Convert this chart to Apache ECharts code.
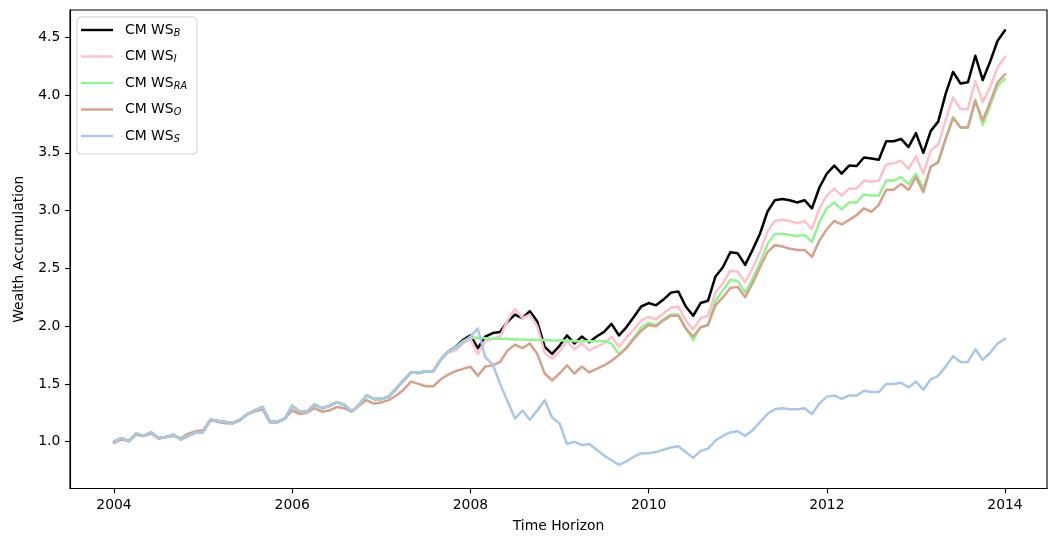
<!DOCTYPE html>
<html>
<head>
<meta charset="utf-8">
<script src="https://cdn.jsdelivr.net/npm/echarts@6/dist/echarts.min.js"></script>
<style>
  html, body { margin: 0; padding: 0; background: #ffffff; }
  #chart { width: 1049px; height: 540px; }
</style>
</head>
<body>
<div id="chart"></div>
<script>
// Monthly observations, January 2004 through January 2014
const startYear = 2004;
const monthCount = 121;
const timeAxis = Array.from({ length: monthCount }, (_, i) => startYear + i / 12);

const xTicks = [2004, 2006, 2008, 2010, 2012, 2014];
const yTicks = [1.0, 1.5, 2.0, 2.5, 3.0, 3.5, 4.0, 4.5];

// 2004-01 .. 2007-09: the B, I, RA and S strategies move together
const sharedStart = [
  1.00, 1.03, 1.00, 1.07, 1.05, 1.08, 1.03, 1.04, 1.06, 1.02, 1.05, 1.08,
  1.085, 1.19, 1.18, 1.17, 1.16, 1.19, 1.24, 1.27, 1.30, 1.17, 1.17, 1.20,
  1.31, 1.26, 1.26, 1.32, 1.29, 1.31, 1.34, 1.32, 1.26, 1.32, 1.40, 1.37,
  1.37, 1.39, 1.46, 1.53, 1.60, 1.595, 1.61, 1.61, 1.71
];

const wsB = [
  ...sharedStart,
  1.78, 1.82, 1.88,
  1.92, 1.81, 1.91, 1.94, 1.95, 2.04, 2.10, 2.07, 2.13, 2.04, 1.82, 1.76,
  1.83, 1.92, 1.85, 1.91, 1.86, 1.91, 1.95, 2.02, 1.92, 1.99,
  2.08, 2.17, 2.20, 2.18, 2.23, 2.29, 2.30, 2.17, 2.09, 2.20, 2.22, 2.43,
  2.51, 2.64, 2.63, 2.53, 2.66, 2.80, 2.99, 3.09, 3.10, 3.09, 3.07, 3.09, 3.02,
  3.20, 3.32, 3.39, 3.32, 3.39, 3.385, 3.46, 3.45, 3.44, 3.60, 3.60, 3.62,
  3.55, 3.67, 3.50, 3.69, 3.77, 4.01, 4.20, 4.10, 4.11, 4.34, 4.13, 4.29, 4.47, 4.56
];

const wsI = [
  ...sharedStart,
  1.77, 1.79, 1.85,
  1.89, 1.76, 1.87, 1.89, 1.91, 2.05, 2.15, 2.07, 2.10, 2.00, 1.77, 1.72,
  1.78, 1.87, 1.80, 1.85, 1.79, 1.82, 1.85, 1.91, 1.82, 1.90,
  1.97, 2.05, 2.08, 2.06, 2.11, 2.16, 2.17, 2.05, 1.97, 2.07, 2.09, 2.29,
  2.37, 2.48, 2.47, 2.38, 2.50, 2.64, 2.82, 2.91, 2.92, 2.91, 2.89, 2.91, 2.84,
  3.02, 3.13, 3.19, 3.13, 3.19, 3.19, 3.26, 3.25, 3.26, 3.40, 3.41, 3.43,
  3.36, 3.47, 3.32, 3.52, 3.57, 3.78, 3.98, 3.88, 3.88, 4.12, 3.94, 4.07, 4.24, 4.33
];

const wsRA = [
  ...sharedStart,
  1.78, 1.82, 1.87,
  1.90, 1.90, 1.895, 1.89, 1.89, 1.89, 1.885, 1.885, 1.88, 1.88, 1.88, 1.875,
  1.875, 1.875, 1.87, 1.87, 1.87, 1.87, 1.87, 1.85, 1.76, 1.81,
  1.90, 1.99, 2.03, 2.01, 2.06, 2.10, 2.10, 1.98, 1.88, 1.99, 2.01, 2.22,
  2.31, 2.40, 2.39, 2.29, 2.41, 2.55, 2.71, 2.80, 2.80, 2.79, 2.78, 2.79, 2.73,
  2.90, 3.02, 3.07, 3.01, 3.07, 3.07, 3.14, 3.13, 3.13, 3.26, 3.26, 3.29,
  3.23, 3.32, 3.19, 3.38, 3.42, 3.62, 3.81, 3.72, 3.72, 3.96, 3.74, 3.91, 4.08, 4.14
];

const wsO = [
  0.99, 1.02, 1.01, 1.06, 1.05, 1.07, 1.03, 1.04, 1.05, 1.03, 1.07, 1.09,
  1.10, 1.19, 1.17, 1.16, 1.16, 1.19, 1.24, 1.26, 1.28, 1.17, 1.17, 1.20,
  1.27, 1.24, 1.25, 1.29, 1.26, 1.27, 1.30, 1.29, 1.26, 1.31, 1.36, 1.33,
  1.34, 1.36, 1.40, 1.45, 1.52, 1.50, 1.48, 1.48, 1.54, 1.58, 1.61, 1.63,
  1.65, 1.57, 1.65, 1.66, 1.69, 1.79, 1.84, 1.81, 1.85, 1.76, 1.59, 1.53,
  1.59, 1.66, 1.59, 1.65, 1.60, 1.63, 1.66, 1.70, 1.75, 1.81,
  1.89, 1.96, 2.01, 2.00, 2.05, 2.09, 2.09, 1.98, 1.91, 1.99, 2.01, 2.18,
  2.25, 2.33, 2.34, 2.25, 2.37, 2.51, 2.64, 2.70, 2.69, 2.67, 2.66, 2.66, 2.60,
  2.74, 2.84, 2.91, 2.88, 2.92, 2.96, 3.02, 2.99, 3.05, 3.18, 3.18, 3.23,
  3.18, 3.29, 3.16, 3.38, 3.42, 3.62, 3.80, 3.72, 3.72, 3.95, 3.78, 3.94, 4.11, 4.18
];

const wsS = [
  ...sharedStart,
  1.78, 1.81, 1.86,
  1.91, 1.98, 1.73, 1.67, 1.50, 1.35, 1.20, 1.27, 1.19, 1.27, 1.36, 1.21,
  1.16, 0.98, 1.00, 0.97, 0.98, 0.93, 0.88, 0.84, 0.80, 0.83,
  0.87, 0.90, 0.90, 0.91, 0.93, 0.95, 0.96, 0.91, 0.86, 0.92, 0.94, 1.01,
  1.05, 1.08, 1.09, 1.05, 1.10, 1.17, 1.24, 1.28, 1.29, 1.28, 1.28, 1.29, 1.24,
  1.33, 1.39, 1.40, 1.37, 1.40, 1.40, 1.44, 1.43, 1.43, 1.50, 1.50, 1.51,
  1.47, 1.52, 1.45, 1.54, 1.57, 1.65, 1.74, 1.69, 1.69, 1.80, 1.71, 1.77, 1.85, 1.89
];

const strategies = [
  { key: 'B',  values: wsB,  color: '#000000' },
  { key: 'I',  values: wsI,  color: '#ffc0cb' },
  { key: 'RA', values: wsRA, color: '#90f590' },
  { key: 'O',  values: wsO,  color: '#d6a08a' },
  { key: 'S',  values: wsS,  color: '#a9c7e8' }
];

const FONT = 'DejaVu Sans';
const FS = 13.9;

const chart = echarts.init(document.getElementById('chart'), null, { renderer: 'canvas' });

chart.setOption({
  animation: false,
  backgroundColor: '#ffffff',
  grid: {
    left: 70, right: 2, top: 10, bottom: 51.5,
    show: true, borderColor: '#000000', borderWidth: 1.1, backgroundColor: 'transparent'
  },
  legend: {
    orient: 'vertical',
    left: 77, top: 17,
    padding: [6, 10, 10, 4],
    itemGap: 11.5,
    itemWidth: 32, itemHeight: 2.4,
    icon: 'rect',
    backgroundColor: 'rgba(255,255,255,0.8)',
    borderColor: '#d0d0d0', borderWidth: 1, borderRadius: 4,
    data: strategies.map(s => 'CM WS ' + s.key),
    formatter: name => '{a|CM WS}{s|' + name.slice(6) + '}',
    textStyle: {
      color: '#000', fontFamily: FONT, fontSize: FS,
      padding: [0, 0, 0, 7],
      rich: {
        a: { fontFamily: FONT, fontSize: FS, color: '#000', lineHeight: 16, verticalAlign: 'middle' },
        s: { fontFamily: FONT, fontSize: 9.7, fontStyle: 'italic', color: '#000', lineHeight: 10, verticalAlign: 'bottom' }
      }
    }
  },
  xAxis: {
    type: 'value',
    min: 2003.506, max: 2014.471,
    name: 'Time Horizon',
    nameLocation: 'middle',
    nameGap: 31,
    nameTextStyle: { color: '#000', fontFamily: FONT, fontSize: FS },
    axisLine: { show: true, onZero: false, lineStyle: { color: '#000', width: 1.1 } },
    axisTick: { show: true, length: 4.9, lineStyle: { color: '#000', width: 1.1 }, customValues: xTicks },
    axisLabel: { color: '#000', fontFamily: FONT, fontSize: FS, margin: 9.7, customValues: xTicks,
                 formatter: v => String(Math.round(v)) },
    splitLine: { show: false }
  },
  yAxis: {
    type: 'value',
    min: 0.595, max: 4.736,
    name: 'Wealth Accumulation',
    nameLocation: 'middle',
    nameGap: 44,
    nameRotate: 90,
    nameTextStyle: { color: '#000', fontFamily: FONT, fontSize: FS },
    axisLine: { show: true, onZero: false, lineStyle: { color: '#000', width: 1.1 } },
    axisTick: { show: true, length: 4.9, lineStyle: { color: '#000', width: 1.1 }, customValues: yTicks },
    axisLabel: { color: '#000', fontFamily: FONT, fontSize: FS, margin: 9.7, customValues: yTicks,
                 formatter: v => v.toFixed(1) },
    splitLine: { show: false }
  },
  series: strategies.map(s => ({
    name: 'CM WS ' + s.key,
    type: 'line',
    data: s.values.map((v, i) => [timeAxis[i], v]),
    showSymbol: false,
    symbol: 'none',
    lineStyle: { color: s.color, width: 2.5, join: 'round', cap: 'round' },
    itemStyle: { color: s.color },
    emphasis: { disabled: true },
    silent: true
  }))
});
</script>
</body>
</html>
